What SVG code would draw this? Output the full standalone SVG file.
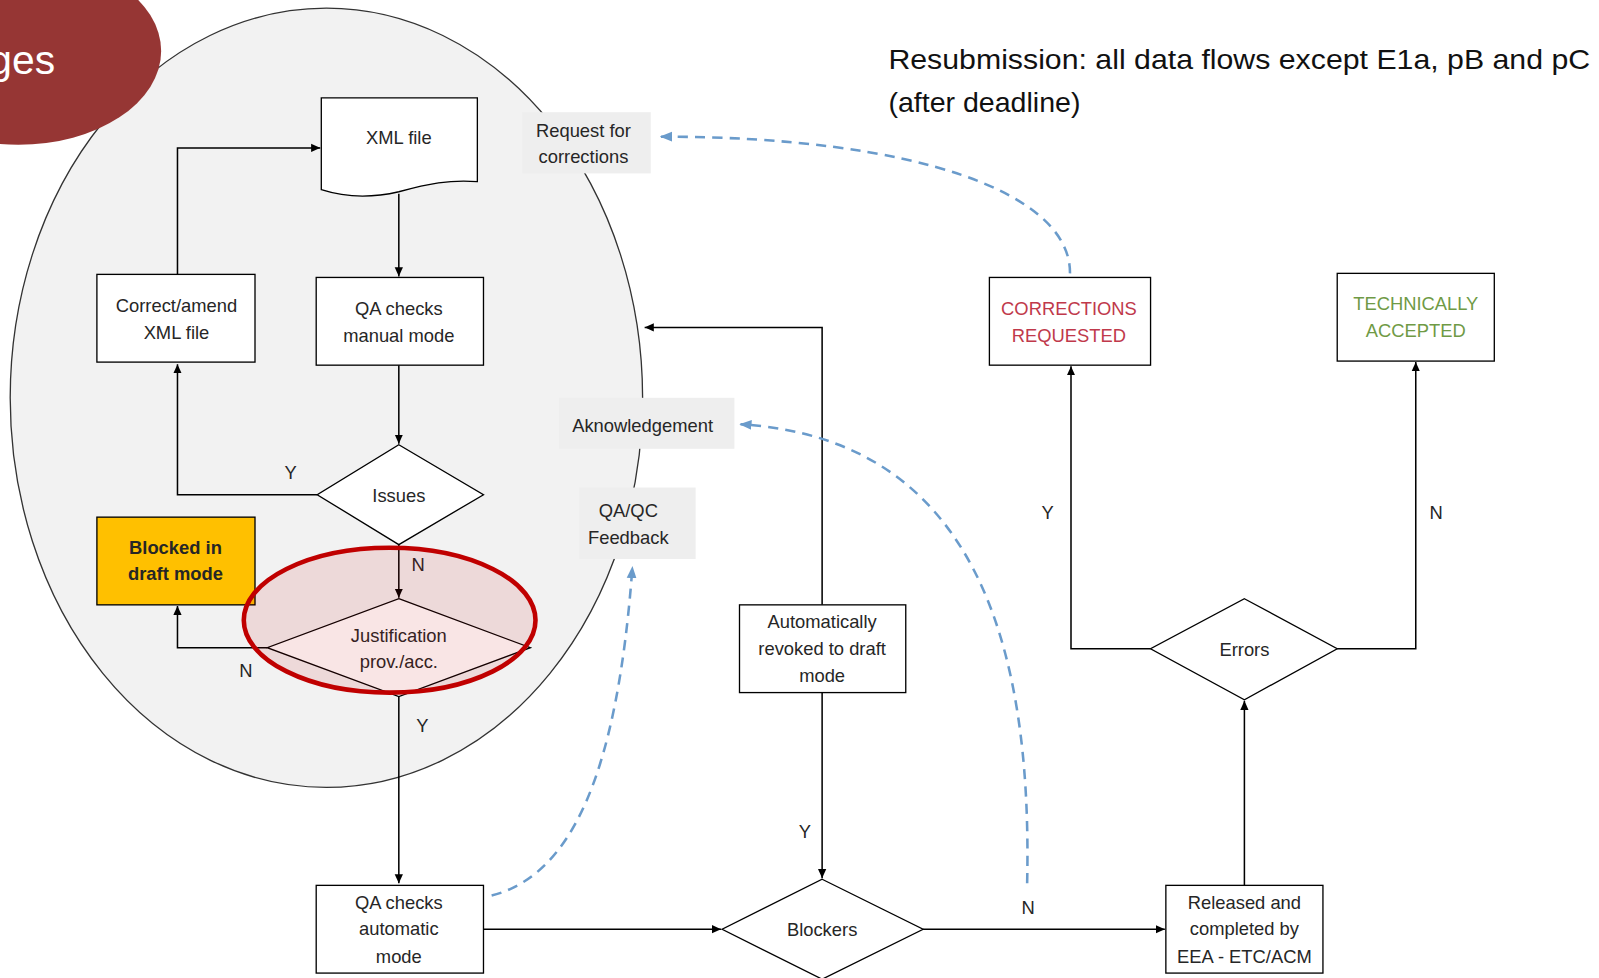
<svg xmlns="http://www.w3.org/2000/svg" width="1599" height="978" viewBox="0 0 1599 978">
<defs>
<style>
.t{font-family:"Liberation Sans",Arial,sans-serif;font-size:18px;fill:#262626;text-anchor:middle}
.box{fill:#fff;stroke:#000;stroke-width:1.3}
.lbl{fill:#eeeeee}
.ln{fill:none;stroke:#000;stroke-width:1.5}
.dash{fill:none;stroke:#6a9bcb;stroke-width:2.5;stroke-dasharray:10 7}
</style>
<marker id="ah" viewBox="0 0 10 10" refX="10" refY="5" markerWidth="9" markerHeight="9" markerUnits="userSpaceOnUse" orient="auto"><path d="M0,0.5L10,5L0,9.5z" fill="#000"/></marker>
<marker id="bh" viewBox="0 0 10 10" refX="9" refY="5" markerWidth="12" markerHeight="12" markerUnits="userSpaceOnUse" orient="auto"><path d="M0,1L10,5L0,9z" fill="#6a9bcb"/></marker>
</defs>
<rect width="1599" height="978" fill="#fff"/>
<g transform="scale(1.02)">
<g id="region">
<ellipse cx="320" cy="390" rx="310" ry="382" fill="#f2f2f2" stroke="#333" stroke-width="1.3"/>
</g>
<g id="tab">
<ellipse cx="18" cy="50" rx="140" ry="92" fill="#963634"/>
<text x="54" y="73" style="font-family:'Liberation Sans',Arial,sans-serif;font-size:40px;fill:#fff;text-anchor:end">ges</text>
</g>
<g id="labels">
<g id="lbl-request"><rect class="lbl" x="512" y="110" width="126" height="60"/><text class="t" x="572" y="134">Request for</text><text class="t" x="572" y="160">corrections</text></g>
<g id="lbl-ack"><rect class="lbl" x="548" y="390" width="172" height="50"/><text class="t" x="630" y="424">Aknowledgement</text></g>
<g id="lbl-qaqc"><rect class="lbl" x="568" y="478" width="114" height="70"/><text class="t" x="616" y="507">QA/QC</text><text class="t" x="616" y="533">Feedback</text></g>
</g>
<g id="connectors">
<path class="ln" d="M391,190V271" marker-end="url(#ah)"/>
<path class="ln" d="M391,358V435" marker-end="url(#ah)"/>
<path class="ln" d="M311,485H174V357" marker-end="url(#ah)"/>
<path class="ln" d="M174,269V145H314" marker-end="url(#ah)"/>
<path class="ln" d="M391,534V586" marker-end="url(#ah)"/>
<path class="ln" d="M262,635H174V594" marker-end="url(#ah)"/>
<path class="ln" d="M391,683V866" marker-end="url(#ah)"/>
<path class="ln" d="M474,911H707" marker-end="url(#ah)"/>
<path class="ln" d="M806,679V861" marker-end="url(#ah)"/>
<path class="ln" d="M806,593V321H632" marker-end="url(#ah)"/>
<path class="ln" d="M905,911H1142" marker-end="url(#ah)"/>
<path class="ln" d="M1220,868V687" marker-end="url(#ah)"/>
<path class="ln" d="M1128,636H1050V359" marker-end="url(#ah)"/>
<path class="ln" d="M1311,636H1388V355" marker-end="url(#ah)"/>
<path class="dash" d="M1049,268C1050,190 900,134 648,134" marker-end="url(#bh)"/>
<path class="dash" d="M1007,866C1012,640 960,430 726,416" marker-end="url(#bh)"/>
<path class="dash" d="M482,878C560,858 605,760 620,556" marker-end="url(#bh)"/>
<text class="t" x="285" y="470">Y</text>
<text class="t" x="410" y="560">N</text>
<text class="t" x="241" y="664">N</text>
<text class="t" x="414" y="718">Y</text>
<text class="t" x="789" y="822">Y</text>
<text class="t" x="1008" y="896">N</text>
<text class="t" x="1027" y="509">Y</text>
<text class="t" x="1408" y="509">N</text>
</g>
<g id="xml-file"><path class="box" d="M315,96H468V178C440,176 420,180 391,188C365,194 340,194 315,186Z"/><text class="t" x="391" y="141">XML file</text></g>
<g id="qa-manual"><rect class="box" x="310" y="272" width="164" height="86"/><text class="t" x="391" y="309">QA checks</text><text class="t" x="391" y="335">manual mode</text></g>
<g id="correct"><rect class="box" x="95" y="269" width="155" height="86"/><text class="t" x="173" y="306">Correct/amend</text><text class="t" x="173" y="332">XML file</text></g>
<g id="issues"><path class="box" d="M391,436L474,485L391,534L311,485Z"/><text class="t" x="391" y="492">Issues</text></g>
<g id="blocked"><rect x="95" y="507" width="155" height="86" fill="#ffc000" stroke="#000" stroke-width="1.3"/><text class="t" x="172" y="543" style="font-weight:bold">Blocked in</text><text class="t" x="172" y="569" style="font-weight:bold">draft mode</text></g>
<g id="justification"><path class="box" d="M391,587L520,635L391,683L262,635Z"/><text class="t" x="391" y="629">Justification</text><text class="t" x="391" y="655">prov./acc.</text>
<ellipse cx="382" cy="608" rx="143" ry="71" fill="#c00000" fill-opacity="0.1" stroke="#c00000" stroke-width="4.5"/></g>
<g id="qa-auto"><rect class="box" x="310" y="868" width="164" height="86"/><text class="t" x="391" y="891">QA checks</text><text class="t" x="391" y="917">automatic</text><text class="t" x="391" y="944">mode</text></g>
<g id="revoked"><rect class="box" x="725" y="593" width="163" height="86"/><text class="t" x="806" y="616">Automatically</text><text class="t" x="806" y="642">revoked to draft</text><text class="t" x="806" y="669">mode</text></g>
<g id="blockers"><path class="box" d="M806,862L905,911L806,960L708,911Z"/><text class="t" x="806" y="918">Blockers</text></g>
<g id="released"><rect class="box" x="1143" y="868" width="154" height="86"/><text class="t" x="1220" y="891">Released and</text><text class="t" x="1220" y="917">completed by</text><text class="t" x="1220" y="944">EEA - ETC/ACM</text></g>
<g id="errors"><path class="box" d="M1220,587L1311,636L1220,686L1128,636Z"/><text class="t" x="1220" y="643">Errors</text></g>
<g id="corrections"><rect class="box" x="970" y="272" width="158" height="86"/><text class="t" x="1048" y="309" style="fill:#c0394b">CORRECTIONS</text><text class="t" x="1048" y="335" style="fill:#c0394b">REQUESTED</text></g>
<g id="accepted"><rect class="box" x="1311" y="268" width="154" height="86"/><text class="t" x="1388" y="304" style="fill:#6f9a45">TECHNICALLY</text><text class="t" x="1388" y="330" style="fill:#6f9a45">ACCEPTED</text></g>
<g id="title"><text x="871" y="68" style="font-family:'Liberation Sans',Arial,sans-serif;font-size:28px;fill:#111" textLength="688" lengthAdjust="spacingAndGlyphs">Resubmission: all data flows except E1a, pB and pC</text><text x="871" y="110" style="font-family:'Liberation Sans',Arial,sans-serif;font-size:28px;fill:#111">(after deadline)</text></g>
</g>
</svg>
